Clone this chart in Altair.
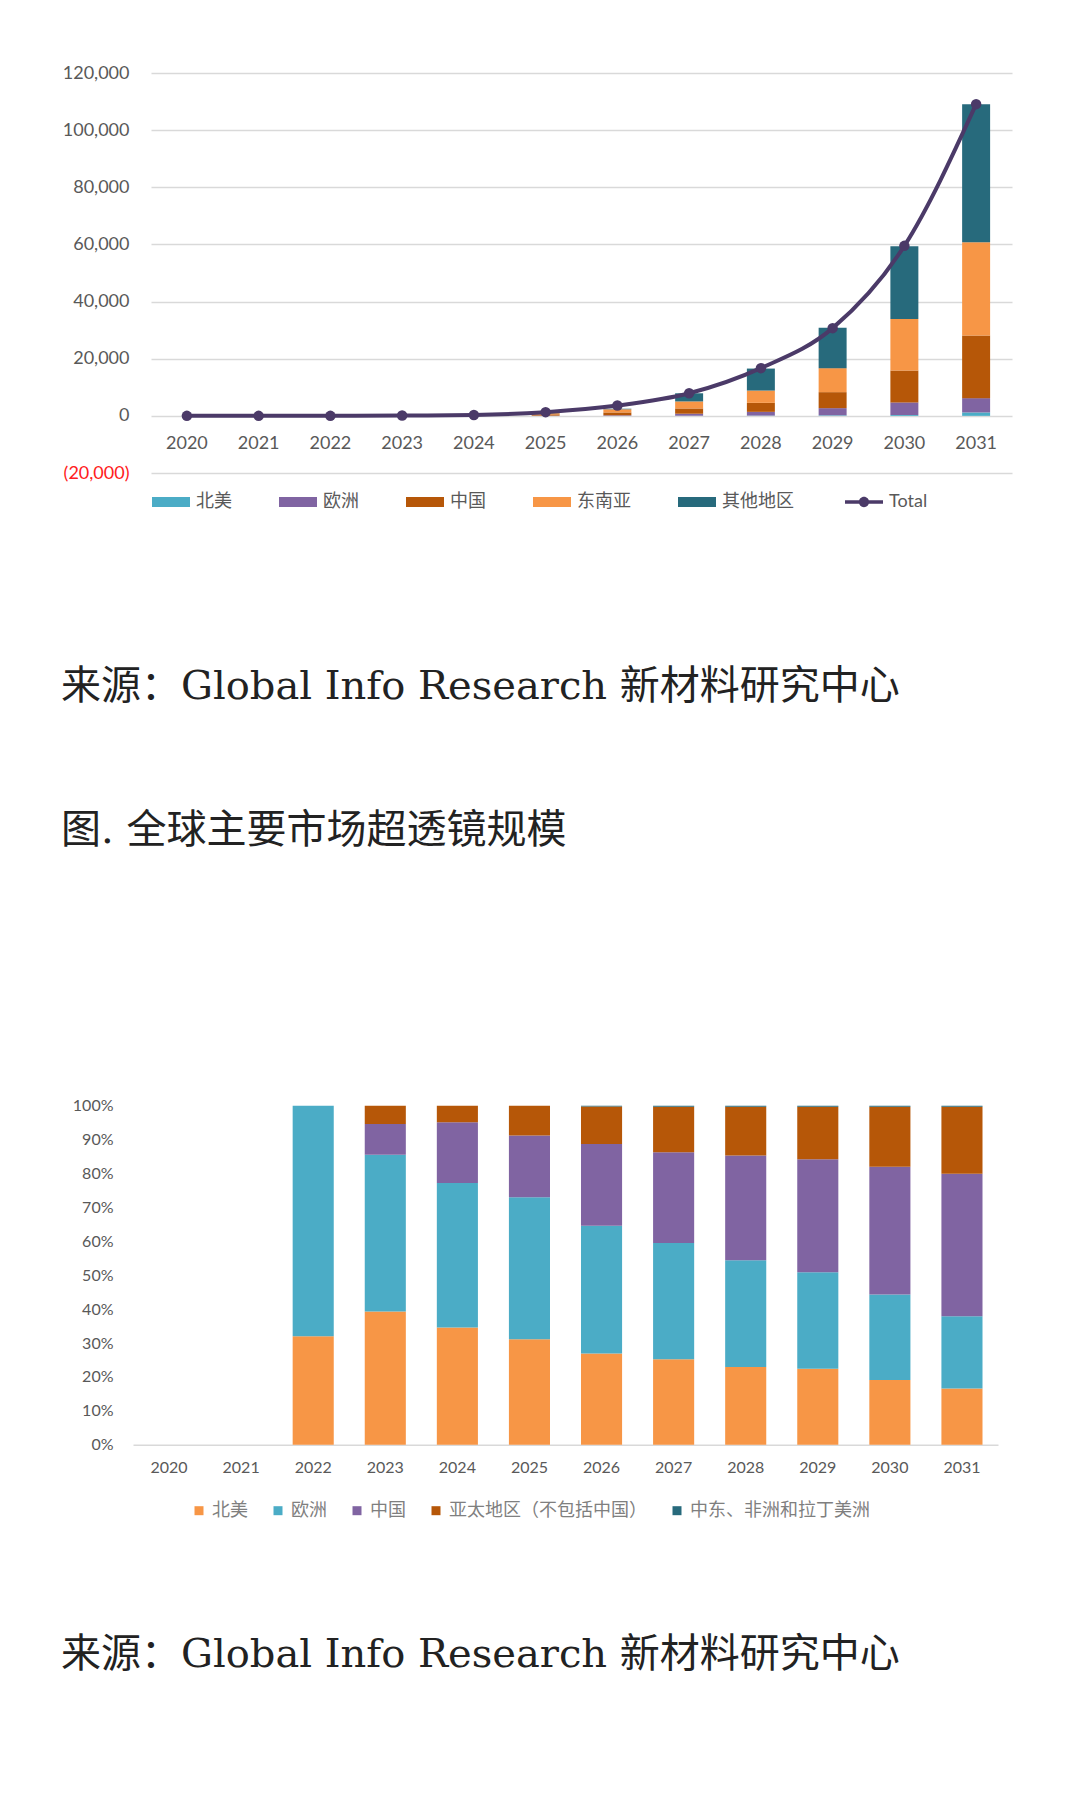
import altair as alt
import pandas as pd

years = [str(y) for y in range(2020, 2032)]

# ---- Upper chart: market size by region (stacked) plus total ----
top_series = ["北美", "欧洲", "中国", "东南亚", "其他地区"]
top_colors = ["#4BACC6", "#8064A2", "#B65708", "#F79646", "#276A7C"]
na_size = [0, 0, 0, 0, 0, 0, 0, 50, 100, 200, 300, 1200]
eu_size = [0, 0, 0, 0, 20, 80, 200, 700, 1300, 2500, 4400, 5000]
cn_size = [0, 0, 0, 30, 120, 450, 1000, 1850, 3150, 5600, 11200, 21900]
sea_size = [0, 0, 0, 30, 120, 420, 1100, 2450, 4300, 8400, 18000, 32700]
other_size = [0, 0, 0, 0, 20, 100, 200, 2850, 7700, 14100, 25500, 48300]
total_size = [0, 0, 0, 100, 300, 1300, 3600, 7900, 16700, 30700, 59500, 109100]
y_ticks = [-20000, 0, 20000, 40000, 60000, 80000, 100000, 120000]

# ---- Lower chart: regional share ----
share_series = ["北美", "欧洲", "中国", "亚太地区（不包括中国）", "中东、非洲和拉丁美洲"]
share_colors = ["#F79646", "#4BACC6", "#8064A2", "#B65708", "#276A7C"]
na_share = [None, None, 32.0, 39.3, 34.6, 31.1, 26.9, 25.2, 22.9, 22.4, 19.1, 16.6]
eu_share = [None, None, 68.0, 46.2, 42.6, 41.9, 37.7, 34.3, 31.5, 28.5, 25.2, 21.3]
cn_share = [None, None, 0.0, 9.1, 17.9, 18.2, 24.1, 26.8, 30.9, 33.3, 37.7, 42.0]
apac_share = [None, None, 0.0, 5.4, 4.9, 8.8, 11.1, 13.4, 14.4, 15.5, 17.7, 19.8]
mea_share = [None, None, 0.0, 0.0, 0.0, 0.0, 0.2, 0.3, 0.3, 0.3, 0.3, 0.3]
pct_ticks = [i / 10 for i in range(11)]

source_text = "来源：Global Info Research 新材料研究中心"
figure_text = "图. 全球主要市场超透镜规模"

AXIS_FONT = "Lato"
CJK_FONT = "Noto Sans CJK SC"
CAPTION_FONT = "DejaVu Serif, Noto Sans CJK SC"
GREY = "#595959"

# long tables
top_rows = []
for rank, (name, vals) in enumerate(zip(top_series, [na_size, eu_size, cn_size, sea_size, other_size])):
    for yr, v in zip(years, vals):
        top_rows.append({"year": yr, "series": name, "value": v, "rank": rank})
df_top = pd.DataFrame(top_rows)
df_total = pd.DataFrame({"year": years, "value": total_size, "name": "Total"})

share_rows = []
for rank, (name, vals) in enumerate(zip(share_series, [na_share, eu_share, cn_share, apac_share, mea_share])):
    for yr, v in zip(years, vals):
        if v is not None:
            share_rows.append({"year": yr, "region": name, "share": v, "rank": rank})
df_share = pd.DataFrame(share_rows)

top_y_axis = alt.Axis(
    title=None, values=y_ticks, grid=True, gridColor="#d9d9d9", gridWidth=1.5,
    domain=False, ticks=False, labelFont=AXIS_FONT, labelFontSize=18, labelPadding=22,
    labelExpr="datum.value < 0 ? '(' + format(-datum.value, ',') + ')' : format(datum.value, ',')",
    labelColor={"condition": {"test": "datum.value < 0", "value": "#FF2020"}, "value": GREY},
)
top_y_scale = alt.Scale(domain=[-20000, 120000], nice=False)
top_x = alt.X(
    "year:N", sort=years,
    scale=alt.Scale(domain=years, paddingInner=0.61, paddingOuter=0.305),
    axis=alt.Axis(title=None, labelAngle=0, domain=False, ticks=False, labelFont=AXIS_FONT,
                  labelFontSize=18, labelColor=GREY, labelPadding=19, offset=-57.3),
)

bars = alt.Chart(df_top).mark_bar().encode(
    x=top_x,
    y=alt.Y("value:Q", stack="zero", scale=top_y_scale, axis=top_y_axis),
    color=alt.Color(
        "series:N", sort=top_series,
        scale=alt.Scale(domain=top_series, range=top_colors),
        legend=alt.Legend(
            title=None, orient="none", legendX=1, legendY=410, direction="horizontal",
            columns=5, columnPadding=47, padding=0,
            symbolType="M-1,-0.263H1V0.263H-1Z", symbolSize=1444, symbolStrokeWidth=0,
            labelFont=CJK_FONT, labelFontSize=18, labelColor=GREY, labelOffset=6,
        ),
    ),
    order=alt.Order("rank:Q", sort="ascending"),
)

total_line = alt.Chart(df_total).mark_line(
    color="#4B3A68", strokeWidth=4, interpolate="monotone"
).encode(
    x=alt.X("year:N", sort=years),
    y=alt.Y("value:Q", scale=top_y_scale, axis=top_y_axis),
)

total_points = alt.Chart(df_total).mark_point(filled=True, size=110, opacity=1).encode(
    x=alt.X("year:N", sort=years),
    y=alt.Y("value:Q", scale=top_y_scale, axis=top_y_axis),
    color=alt.Color(
        "name:N",
        scale=alt.Scale(domain=["Total"], range=["#4B3A68"]),
        legend=alt.Legend(
            title=None, orient="none", legendX=694, legendY=410, direction="horizontal", padding=0,
            symbolType="M-1,-0.09H1V0.09H-1Z M0.27,0A0.27,0.27 0 1 1 -0.27,0A0.27,0.27 0 1 1 0.27,0Z",
            symbolSize=1444, symbolStrokeWidth=0,
            labelFont=AXIS_FONT, labelFontSize=18, labelColor=GREY, labelOffset=6,
        ),
    ),
)

top_chart = alt.layer(bars, total_line, total_points).resolve_scale(
    color="independent"
).properties(width=861, height=400)

spacer = alt.Chart(pd.DataFrame({"v": [0]})).mark_point(opacity=0).properties(width=1, height=400)
top_row = alt.hconcat(spacer, top_chart, spacing=17, bounds="flush").resolve_scale(color="independent")

# lower chart
share_bars = alt.Chart(df_share).mark_bar().encode(
    x=alt.X(
        "year:N", sort=years,
        scale=alt.Scale(domain=years, paddingInner=0.43, paddingOuter=0.215),
        axis=alt.Axis(title=None, labelAngle=0, domainColor="#d9d9d9", domainWidth=1.5, ticks=False,
                      labelFont=AXIS_FONT, labelFontSize=16, labelColor=GREY, labelPadding=15),
    ),
    y=alt.Y(
        "share:Q", stack="normalize", scale=alt.Scale(domain=[0, 1]),
        axis=alt.Axis(title=None, values=pct_ticks, format=".0%", grid=False, domain=False, ticks=False,
                      labelFont=AXIS_FONT, labelFontSize=16, labelColor=GREY, labelPadding=20),
    ),
    color=alt.Color(
        "region:N", sort=share_series,
        scale=alt.Scale(domain=share_series, range=share_colors),
        legend=alt.Legend(
            title=None, orient="none", legendX=57, legendY=396, direction="horizontal",
            columns=5, columnPadding=21, padding=0,
            symbolType="square", symbolSize=81, symbolStrokeWidth=0,
            labelFont=CJK_FONT, labelFontSize=18, labelColor="#7f7f7f", labelOffset=4, labelLimit=400,
        ),
    ),
    order=alt.Order("rank:Q", sort="ascending"),
)


def caption(text, ypos):
    return alt.Chart(pd.DataFrame({"t": [text]})).mark_text(
        align="left", baseline="middle", font=CAPTION_FONT, fontSize=40, color="#222222"
    ).encode(text="t:N", x=alt.value(-72), y=alt.value(ypos))


bottom_chart = alt.layer(
    share_bars,
    caption(source_text, -418.5),
    caption(figure_text, -274.5),
    caption(source_text, 549.5),
).properties(width=865, height=339)

chart = alt.vconcat(top_row, bottom_chart, spacing=1032.7, bounds="flush").resolve_scale(
    color="independent"
).properties(
    padding={"left": 61, "top": 64, "right": 10, "bottom": 10},
    background="white",
).configure_view(stroke=None)

chart.save("out.html", embed_options={"renderer": "svg", "actions": False})
